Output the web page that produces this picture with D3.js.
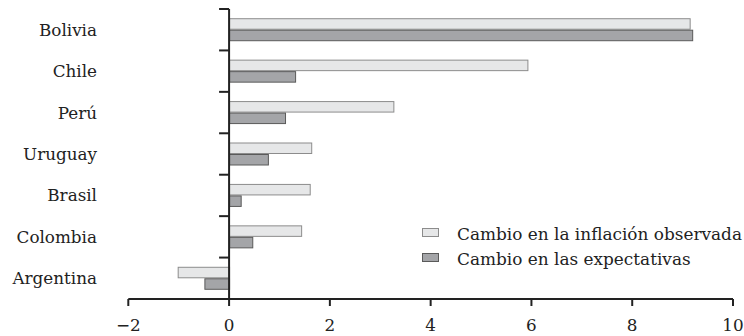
<!DOCTYPE html>
<html><head><meta charset="utf-8">
<script src="https://cdn.jsdelivr.net/npm/d3@7"></script>
<style>body{margin:0;background:#fff}svg{display:block}text{font-family:'DejaVu Serif',serif}</style>
</head><body><svg id="c" width="744" height="336"></svg>
<script>
const categories = ["Bolivia","Chile","Perú","Uruguay","Brasil","Colombia","Argentina"];
const observada = [9.14, 5.92, 3.26, 1.63, 1.60, 1.43, -1.02];
const expectativas = [9.19, 1.31, 1.11, 0.77, 0.23, 0.46, -0.49];
const seriesNames = ["Cambio en la inflación observada","Cambio en las expectativas"];
const xTicks = [-2,0,2,4,6,8,10];

const svg = d3.select("#c");
const x = d3.scaleLinear().domain([-2,10]).range([128.3,733]);
const y = d3.scaleBand().domain(categories).range([9,299]);
const sub = d3.scaleBand().domain([0,1]).range([0,23]);
const fills = ["#e6e7e8","#a4a5a8"], strokes = ["#8c8c8c","#5a5a5a"];
const data = [observada, expectativas];

data.forEach((vals,si)=>{
  svg.append("g").selectAll("rect").data(categories).join("rect")
    .attr("x",(d,i)=>x(Math.min(0,vals[i]))+0.5)
    .attr("y",d=>y(d)+y.bandwidth()/2-11.5+sub(si)+0.5)
    .attr("width",(d,i)=>Math.abs(x(vals[i])-x(0)))
    .attr("height",sub.bandwidth()-1)
    .attr("fill",fills[si]).attr("stroke",strokes[si]).attr("stroke-width",1);
});

// y axis
const ya = svg.append("g").attr("transform",`translate(${x(0)},0)`);
ya.append("line").attr("y1",y.range()[0]).attr("y2",y.range()[1]).attr("stroke","#222").attr("stroke-width",2);
ya.selectAll(".t").data(d3.range(categories.length)).join("line")
  .attr("x1",-10).attr("x2",0).attr("y1",i=>y(categories[i])).attr("y2",i=>y(categories[i]))
  .attr("stroke","#222").attr("stroke-width",2);

svg.append("g").selectAll("text").data(categories).join("text")
  .attr("x",97).attr("y",d=>y(d)+y.bandwidth()/2+6)
  .attr("text-anchor","end").attr("font-size",16.8)
  .attr("fill","#222").text(d=>d);

// x axis
const xa = svg.append("g").attr("transform","translate(0,299)");
xa.append("line").attr("x1",x(-2)).attr("x2",x(10)).attr("stroke","#222").attr("stroke-width",2);
xa.selectAll("line.t").data(xTicks).join("line").attr("class","t")
  .attr("x1",d=>x(d)).attr("x2",d=>x(d)).attr("y1",0).attr("y2",7)
  .attr("stroke","#222").attr("stroke-width",2);
xa.selectAll("text").data(xTicks).join("text")
  .attr("x",d=>x(d)).attr("y",31.5).attr("text-anchor","middle")
  .attr("font-size",16.8).attr("fill","#222")
  .text(d=>d<0?"\u2212"+Math.abs(d):d);

// legend
const lg = svg.append("g");
seriesNames.forEach((n,i)=>{
  lg.append("rect").attr("x",422.5).attr("y",228.5+i*25).attr("width",16).attr("height",8)
    .attr("fill",fills[i]).attr("stroke",strokes[i]);
  lg.append("text").attr("x",457).attr("y",239.5+i*25)
    .attr("font-size",16.9).attr("fill","#222").text(n);
});
</script></body></html>
